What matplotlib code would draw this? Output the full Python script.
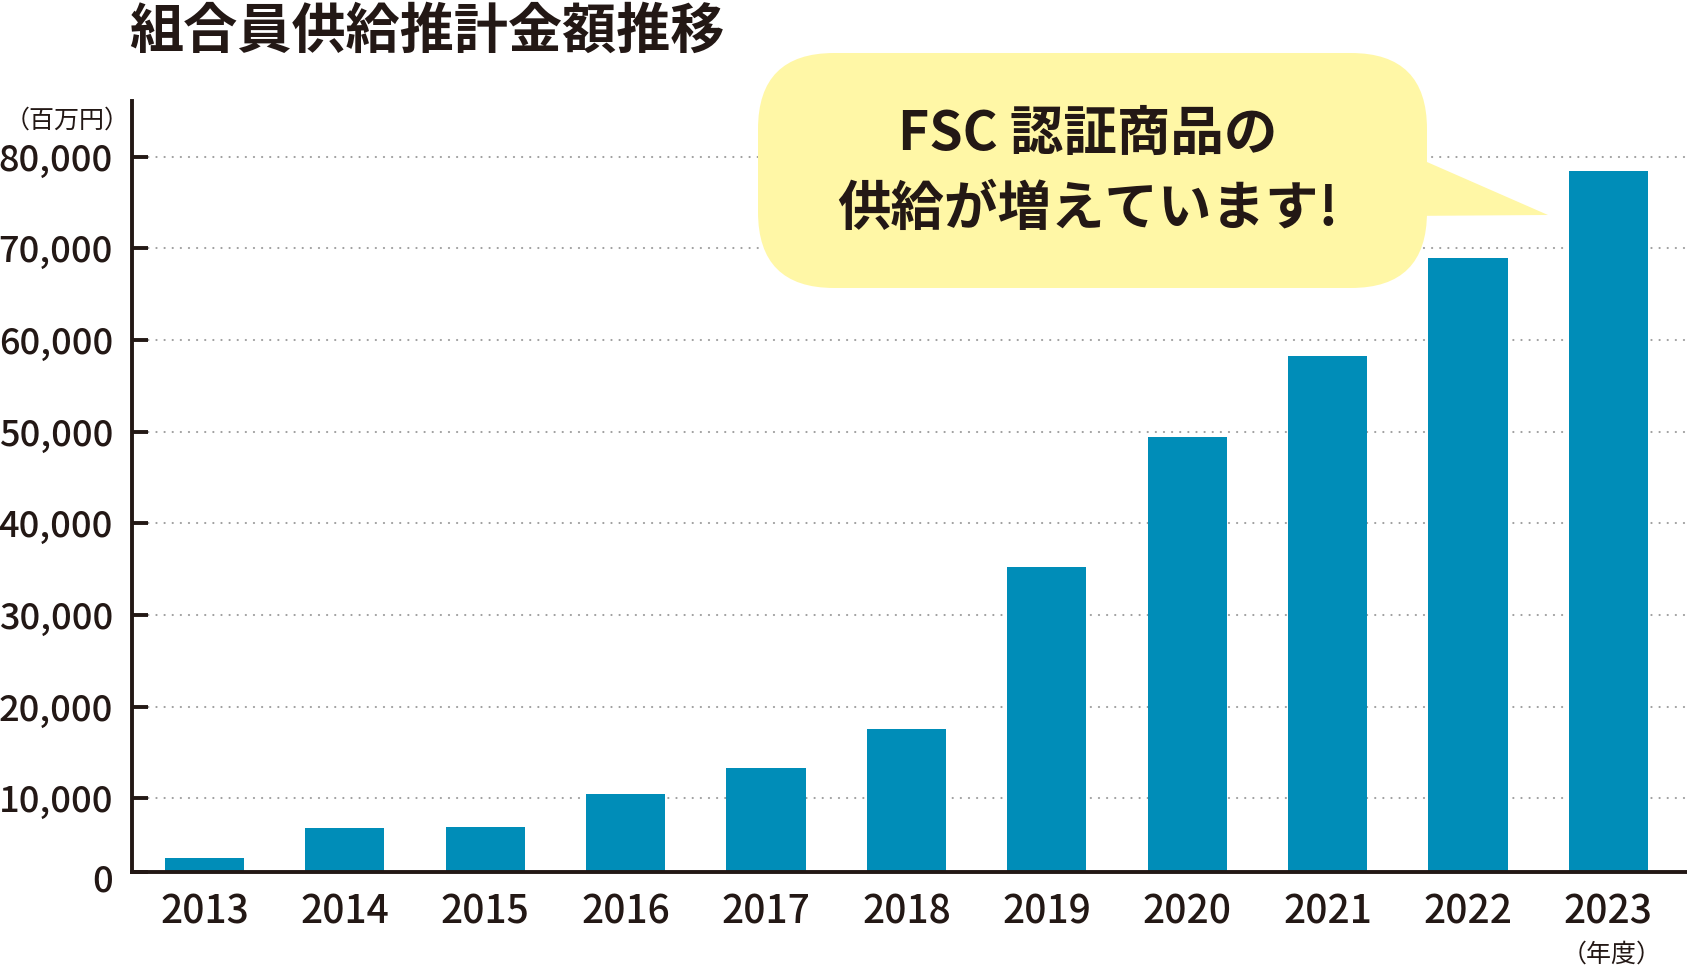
import numpy as np
import matplotlib.pyplot as plt
from matplotlib.patches import FancyBboxPatch, Polygon
from matplotlib.transforms import ScaledTranslation

plt.rcParams['font.family'] = ['Noto Sans CJK JP', 'DejaVu Sans']

title = "組合員供給推計金額推移"
years = ["2013", "2014", "2015", "2016", "2017", "2018",
         "2019", "2020", "2021", "2022", "2023"]
# 百万円
values = [3500, 6800, 6900, 10500, 13300, 17600,
          35200, 49400, 58200, 68900, 78400]
ytick_values = [0, 10000, 20000, 30000, 40000, 50000, 60000, 70000, 80000]
ytick_labels = ["0", "10,000", "20,000", "30,000", "40,000",
                "50,000", "60,000", "70,000", "80,000"]
y_unit = "（百万円）"
x_unit = "（年度）"
bubble_lines = ["FSC 認証商品の", "供給が増えています!"]

ink = '#231815'
bar_color = '#008DB8'
bubble_color = '#FFF7A6'

W, H = 1687, 968
fig = plt.figure(figsize=(W / 100, H / 100), dpi=100)
ax = fig.add_axes([132 / W, 96 / H, 1 - 132 / W, (872 - 100.7) / H])

# the original draws its baseline a little above the real zero
y_floor = 1950
x = np.arange(len(years))
ax.bar(x, values, width=0.563, color=bar_color, zorder=2)
ax.set_xlim(-0.516, 10.56)
ax.set_ylim(y_floor, 86100)

ax.set_xticks(x)
ax.set_xticklabels(years)
ax.set_yticks([max(v, y_floor) for v in ytick_values])
ax.set_yticklabels(ytick_labels)

ax.set_axisbelow(True)
ax.yaxis.grid(True, linestyle=(0, (0.1, 3.8)), color='#9E9E9E',
              linewidth=1.5, dash_capstyle='round')

for side in ['top', 'right']:
    ax.spines[side].set_visible(False)
for side in ['left', 'bottom']:
    ax.spines[side].set_linewidth(2.8)
    ax.spines[side].set_color(ink)

ax.tick_params(axis='y', direction='in', length=11.5, width=2.8,
               color=ink, pad=13.7, labelsize=26, labelcolor=ink)
ax.tick_params(axis='x', length=0, pad=15, labelsize=28, labelcolor=ink)
for lab in ax.get_xticklabels() + ax.get_yticklabels():
    lab.set_fontweight('medium')
zero_lab = ax.get_yticklabels()[0]
zero_lab.set_transform(zero_lab.get_transform()
                       + ScaledTranslation(0, -0.05, fig.dpi_scale_trans))

fig.text(129 / W, 1 - 32 / H, title, fontsize=39, fontweight='bold',
         color=ink, ha='left', va='center')
fig.text(130 / W, 1 - 121 / H, y_unit, fontsize=18, color=ink,
         ha='right', va='center')
fig.text(1612 / W, 1 - 955 / H, x_unit, fontsize=18, color=ink,
         ha='center', va='center')

# speech bubble
body = FancyBboxPatch((7.58, 6.80), 6.69, 2.35,
                      boxstyle='round,pad=0,rounding_size=0.76',
                      transform=fig.dpi_scale_trans,
                      fc=bubble_color, ec='none', zorder=3)
tail = Polygon([(14.0, 8.178), (15.48, 7.53), (14.0, 7.52)], closed=True,
               transform=fig.dpi_scale_trans,
               fc=bubble_color, ec='none', zorder=3)
fig.add_artist(body)
fig.add_artist(tail)
fig.text(1088 / W, 1 - 134 / H, bubble_lines[0], fontsize=38.5,
         fontweight='bold', color=ink, ha='center', va='center', zorder=4)
fig.text(1088 / W, 1 - 209 / H, bubble_lines[1], fontsize=38.5,
         fontweight='bold', color=ink, ha='center', va='center', zorder=4)

fig.savefig('out.png', dpi=100)
